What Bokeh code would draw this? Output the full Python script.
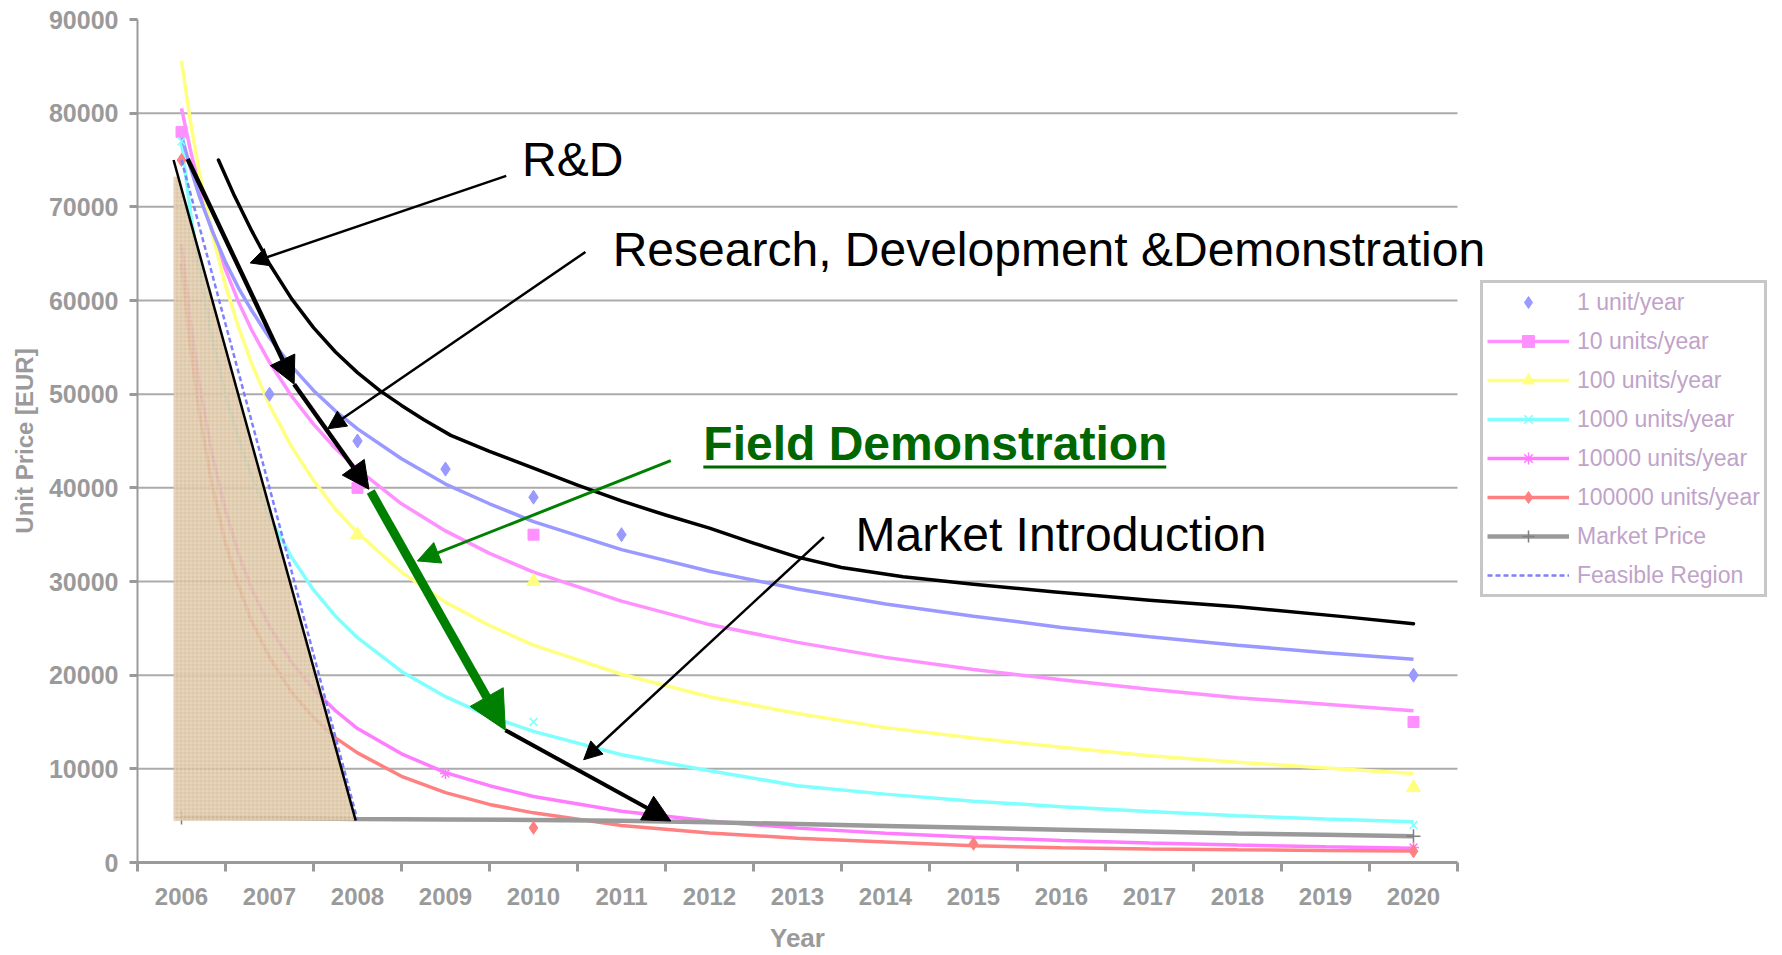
from bokeh.plotting import figure
from bokeh.models import (FixedTicker, Label, Arrow, NormalHead, Legend, LegendItem, Range1d)
from bokeh.embed import file_html
from bokeh.resources import INLINE

# ---------------- data ----------------
years = [2006, 2007, 2008, 2009, 2010, 2011, 2012, 2013, 2014, 2015, 2016, 2017, 2018, 2019, 2020]
y_ticks = [0, 10000, 20000, 30000, 40000, 50000, 60000, 70000, 80000, 90000]
grid_values = [10000, 20000, 30000, 40000, 50000, 60000, 70000, 80000]

# trend-line readings (EUR) along the year axis
curve_years = [2006.0, 2006.1, 2006.2, 2006.35, 2006.5, 2006.65, 2006.8, 2007.0, 2007.25, 2007.5,
               2007.75, 2008.0, 2008.5, 2009.0, 2009.5, 2010.0, 2011.0, 2012.0, 2013.0, 2014.0,
               2015.0, 2016.0, 2017.0, 2018.0, 2019.0, 2020.0]
trend_1 = [77600, 74200, 71200, 67400, 64100, 61300, 58900, 56000, 53000, 50400,
           48200, 46300, 43100, 40400, 38300, 36400, 33400, 31100, 29200, 27600,
           26300, 25100, 24100, 23200, 22400, 21700]
trend_10 = [80500, 76100, 72300, 67400, 63300, 59800, 56800, 53400, 49800, 46800,
            44200, 42000, 38300, 35400, 33000, 31000, 27900, 25400, 23500, 21900,
            20600, 19500, 18500, 17600, 16900, 16200]
trend_100 = [85600, 79200, 73800, 67100, 61600, 57100, 53200, 48800, 44400, 40800,
             37700, 35200, 31000, 27800, 25300, 23200, 20100, 17700, 15900, 14400,
             13300, 12300, 11400, 10700, 10100, 9500]
trend_1000 = [76900, 69500, 63400, 55900, 50000, 45200, 41200, 36900, 32600, 29100,
              26300, 24000, 20400, 17700, 15600, 14000, 11500, 9800, 8200, 7300,
              6550, 5950, 5450, 5000, 4650, 4350]
trend_10000 = [66000, 57800, 51200, 43500, 37600, 32900, 29200, 25200, 21400, 18500,
               16200, 14300, 11600, 9600, 8200, 7050, 5470, 4420, 3670, 3120,
               2690, 2350, 2090, 1870, 1680, 1530]
trend_100000 = [64000, 55200, 48200, 40200, 34100, 29500, 25700, 21900, 18200, 15500,
                13300, 11700, 9200, 7460, 6200, 5300, 3950, 3150, 2600, 2200,
                1800, 1580, 1450, 1360, 1290, 1240]

# data points (markers)
pts_1_years = [2007, 2008, 2009, 2010, 2011, 2020]
pts_1 = [50000, 45000, 42000, 39000, 35000, 20000]
pts_10_years = [2006, 2008, 2010, 2020]
pts_10 = [78000, 40000, 35000, 15000]
pts_100_years = [2008, 2010, 2020]
pts_100 = [35000, 30000, 8000]
pts_1000_years = [2006, 2010, 2020]
pts_1000 = [77000, 15000, 4000]
pts_10000_years = [2009, 2020]
pts_10000 = [9500, 1600]
pts_100000_years = [2006, 2010, 2015, 2020]
pts_100000 = [75000, 3700, 2000, 1200]

market_price = [4800, 4750, 4650, 4600, 4550, 4450, 4300, 4100, 3900, 3700, 3500, 3300, 3100, 2950, 2800]
market_marker_years = [2006, 2020]
market_marker_values = [4800, 2800]

feasible_years = [2006, 2007, 2008]
feasible_values = [75000, 40000, 4500]

# shaded feasible area and its boundary line
shade_x = [2005.91, 2005.96, 2007.98, 2005.91]
shade_y = [73200, 73200, 4470, 4470]
boundary_x = [2005.91, 2007.98]
boundary_y = [75000, 4470]

# hand-drawn R&D path
rd_path_years = [2006.42, 2006.6, 2006.8, 2007.0, 2007.25, 2007.5, 2007.75, 2008.0, 2008.25, 2008.5,
                 2008.75, 2009.06, 2009.5, 2010.0, 2010.5, 2011.0, 2011.5, 2012.0, 2012.5, 2013.0,
                 2013.5, 2014.2, 2015.0, 2015.9, 2017.0, 2018.0, 2019.2, 2020.0]
rd_path_values = [75000, 71200, 67400, 63900, 60200, 57100, 54500, 52300, 50400, 48800,
                  47300, 45600, 43900, 42100, 40300, 38600, 37100, 35700, 34100, 32600,
                  31500, 30500, 29700, 28900, 28000, 27300, 26250, 25500]

# ---------------- styling ----------------
GREY = "#9a9a9a"
TXT = "Liberation Sans"
C_BLUE = "#9999FF"
C_PINK = "#FF90FF"
C_YEL = "#FFFF80"
C_CYAN = "#80FFFF"
C_MAG = "#FF7CFF"
C_RED = "#FF8080"

X0, X1 = 2005.5, 2020.5
px_per_year = 88.0
right_extent = X1 + (1782 - 137 - 15 * px_per_year) / px_per_year

p = figure(width=1782, height=955, output_backend="svg", toolbar_location=None,
           x_range=Range1d(X0, right_extent), y_range=Range1d(0, 90000),
           min_border_left=137, min_border_right=0, min_border_top=19, min_border_bottom=90)
p.outline_line_color = None
p.background_fill_color = "white"
p.border_fill_color = "white"
p.xgrid.visible = False
p.ygrid.visible = False

# x axis: ticks at category boundaries, labels at centres
xa = p.xaxis[0]
xa.bounds = (X0, X1)
xa.ticker = FixedTicker(ticks=years, minor_ticks=[y - 0.5 for y in years] + [years[-1] + 0.5])
xa.major_tick_out = 0
xa.major_tick_in = 0
xa.minor_tick_out = 9
xa.minor_tick_in = 0
xa.minor_tick_line_color = GREY
xa.minor_tick_line_width = 3
xa.axis_line_color = GREY
xa.axis_line_width = 3
xa.major_label_text_font = TXT
xa.major_label_text_font_style = "bold"
xa.major_label_text_font_size = "24px"
xa.major_label_text_color = GREY
xa.major_label_standoff = 16
# the axis title is centred on the whole frame; non-breaking spaces move it
# back over the centre of the year span
xa.axis_label = "Year" + "\u00a0" * 45
xa.axis_label_text_font = TXT
xa.axis_label_text_font_style = "bold"
xa.axis_label_text_font_size = "26px"
xa.axis_label_text_color = GREY
xa.axis_label_standoff = 15

ya = p.yaxis[0]
ya.ticker = FixedTicker(ticks=y_ticks)
ya.major_tick_out = 8
ya.major_tick_in = 0
ya.minor_tick_out = 0
ya.minor_tick_in = 0
ya.major_tick_line_color = GREY
ya.major_tick_line_width = 3
ya.axis_line_color = GREY
ya.axis_line_width = 2
ya.major_label_text_font = TXT
ya.major_label_text_font_style = "bold"
ya.major_label_text_font_size = "25px"
ya.major_label_text_color = GREY
ya.major_label_standoff = 11
ya.axis_label = "Unit Price [EUR]"
ya.axis_label_text_font = TXT
ya.axis_label_text_font_style = "bold"
ya.axis_label_text_font_size = "24px"
ya.axis_label_text_color = GREY
ya.axis_label_standoff = 8

# horizontal grid lines, limited to the category span
p.segment(x0=[X0] * len(grid_values), x1=[X1] * len(grid_values), y0=grid_values, y1=grid_values,
          line_color="#ababab", line_width=2)

# ---------------- series ----------------
lw = 3.5
l10 = p.line(curve_years, trend_10, line_color=C_PINK, line_width=lw)
l100 = p.line(curve_years, trend_100, line_color=C_YEL, line_width=lw)
l1000 = p.line(curve_years, trend_1000, line_color=C_CYAN, line_width=lw)
l10000 = p.line(curve_years, trend_10000, line_color=C_MAG, line_width=lw)
l100000 = p.line(curve_years, trend_100000, line_color=C_RED, line_width=lw)
l1 = p.line(curve_years, trend_1, line_color=C_BLUE, line_width=lw)

lmk = p.line(years, market_price, line_color=GREY, line_width=4.5)
smk = p.scatter(market_marker_years, market_marker_values, marker="cross", size=14,
                line_color="#808080", line_width=1.5)

s1 = p.scatter(pts_1_years, pts_1, marker="diamond", size=14, fill_color=C_BLUE, line_color=C_BLUE)
s10 = p.scatter(pts_10_years, pts_10, marker="square", size=11, fill_color=C_PINK, line_color=C_PINK)
s100 = p.scatter(pts_100_years, pts_100, marker="triangle", size=14, fill_color=C_YEL, line_color=C_YEL)
s1000 = p.scatter(pts_1000_years, pts_1000, marker="x", size=11, line_color=C_CYAN, line_width=1.5)
s10000 = p.scatter(pts_10000_years, pts_10000, marker="asterisk", size=11, line_color=C_MAG, line_width=1.5)
s100000 = p.scatter(pts_100000_years, pts_100000, marker="diamond", size=13, fill_color=C_RED, line_color=C_RED)

# shaded region over the curves
p.patch(shade_x, shade_y, fill_color="#D8BE98", fill_alpha=0.86, line_color=None,
        hatch_pattern="cross", hatch_scale=4, hatch_weight=1, hatch_color="#F4EADB", hatch_alpha=0.45)

lfr = p.line(feasible_years, feasible_values, line_color="#8080FF", line_width=2.5, line_dash="5 3")
sfr = p.scatter([], [], marker="dash", size=10, line_color="#8080FF", line_width=3)

p.line(boundary_x, boundary_y, line_color="black", line_width=2.5)
p.line(rd_path_years, rd_path_values, line_color="black", line_width=3.5, line_cap="round",
       line_join="round")


def arrow(xs, ys, xe, ye, color, width, head):
    p.add_layout(Arrow(end=NormalHead(size=head, fill_color=color, line_color=color, line_width=1),
                       x_start=xs, y_start=ys, x_end=xe, y_end=ye,
                       line_color=color, line_width=width))


# thick path arrows
arrow(2006.07, 75100, 2007.28, 51060, "black", 4.5, 27)
arrow(2007.28, 51060, 2008.13, 39850, "black", 4.5, 27)
arrow(2008.15, 39600, 2009.68, 14130, "#008000", 9, 38)
arrow(2009.68, 14130, 2011.56, 4430, "black", 4, 27)
# pointers from the labels
arrow(2009.69, 73300, 2006.78, 64010, "black", 2.5, 18)
arrow(2010.59, 65180, 2007.66, 46300, "black", 2.5, 18)
arrow(2011.56, 42900, 2008.68, 32200, "#008000", 3, 22)
arrow(2013.30, 34740, 2010.57, 10970, "black", 2.5, 18)

for (tx, ty, t) in [(2009.87, 75106, "R&D"),
                    (2010.90, 65480, "Research, Development &Demonstration"),
                    (2013.66, 35053, "Market Introduction")]:
    p.add_layout(Label(x=tx, y=ty, text=t, text_font=TXT, text_font_size="48px",
                       text_color="black", text_align="left", text_baseline="middle"))
p.add_layout(Label(x=2011.93, y=44734, text="Field Demonstration", text_font=TXT,
                   text_font_size="48px", text_font_style="bold", text_color="#006600",
                   text_align="left", text_baseline="middle"))
p.line([2011.93, 2017.19], [42230, 42230], line_color="#006600", line_width=3)

legend = Legend(items=[
    LegendItem(label="1 unit/year", renderers=[s1]),
    LegendItem(label="10 units/year", renderers=[l10, s10]),
    LegendItem(label="100 units/year", renderers=[l100, s100]),
    LegendItem(label="1000 units/year", renderers=[l1000, s1000]),
    LegendItem(label="10000 units/year", renderers=[l10000, s10000]),
    LegendItem(label="100000 units/year", renderers=[l100000, s100000]),
    LegendItem(label="Market Price", renderers=[lmk, smk]),
    LegendItem(label="Feasible Region", renderers=[lfr, sfr]),
], location=(1343, 265))
legend.margin = 0
legend.padding = 4
legend.spacing = 9
legend.glyph_width = 82
legend.glyph_height = 30
legend.label_height = 30
legend.label_standoff = 8
legend.label_text_font = TXT
legend.label_text_font_size = "23px"
legend.label_text_color = "#BFA3C9"
legend.border_line_color = "#909090"
legend.border_line_width = 3
legend.background_fill_color = "white"
legend.background_fill_alpha = 1
p.add_layout(legend)

open("out.html", "w").write(file_html(p, INLINE))
